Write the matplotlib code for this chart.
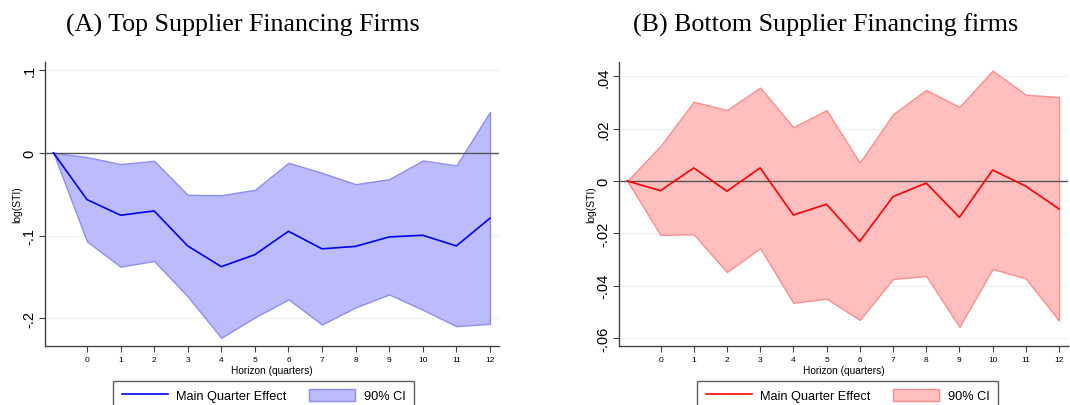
import matplotlib
matplotlib.use("Agg")
import matplotlib.pyplot as plt
import numpy as np
from matplotlib.patches import Patch
from matplotlib.lines import Line2D

plt.rcParams['font.family'] = ['Liberation Sans', 'DejaVu Sans']

# horizon (quarters), -1 is the anchor point
horizon = [-1, 0, 1, 2, 3, 4, 5, 6, 7, 8, 9, 10, 11, 12]

# (A) top supplier financing firms
top_main = [0, -0.0565, -0.0754, -0.0702, -0.1125, -0.1375, -0.123, -0.0948,
            -0.116, -0.113, -0.1016, -0.0996, -0.1125, -0.079]
top_upper = [0, -0.0052, -0.0137, -0.0097, -0.0508, -0.0512, -0.0448, -0.0121,
             -0.0242, -0.0379, -0.0319, -0.0093, -0.0153, 0.0492]
top_lower = [0, -0.1069, -0.1375, -0.1306, -0.1734, -0.2234, -0.1988, -0.177,
             -0.2073, -0.1867, -0.171, -0.1895, -0.2093, -0.2065]

# (B) bottom supplier financing firms
bot_main = [0, -0.0037, 0.005, -0.0039, 0.005, -0.013, -0.0089, -0.0231,
            -0.006, -0.0008, -0.0139, 0.0042, -0.002, -0.0107]
bot_upper = [0, 0.0134, 0.0303, 0.0271, 0.0357, 0.0206, 0.0271, 0.007,
             0.0255, 0.0348, 0.0283, 0.0422, 0.033, 0.0321]
bot_lower = [0, -0.0206, -0.0204, -0.0348, -0.0257, -0.0466, -0.045, -0.0531,
             -0.0375, -0.0363, -0.0558, -0.0336, -0.0373, -0.0534]

top_yticks = [0.1, 0, -0.1, -0.2]
top_ylabels = ['.1', '0', '-.1', '-.2']
bot_yticks = [0.04, 0.02, 0, -0.02, -0.04, -0.06]
bot_ylabels = ['.04', '.02', '0', '-.02', '-.04', '-.06']

W, H = 1070, 406
fig = plt.figure(figsize=(W / 100, H / 100), dpi=100)


def px(x0, y0, x1, y1):
    return [x0 / W, 1 - y1 / H, (x1 - x0) / W, (y1 - y0) / H]


panels = [
    dict(rect=px(45, 63, 499, 347), main=top_main, up=top_upper, lo=top_lower,
         line='#0000ff', fill='#bcbcfc', edge='#8c8cf8',
         ylim=(-0.2333, 0.1096), yt=top_yticks, yl=top_ylabels,
         title='(A) Top Supplier Financing Firms', tx=243, lx=263.5),
    dict(rect=px(619, 63, 1068, 347), main=bot_main, up=bot_upper, lo=bot_lower,
         line='#ff0000', fill='#ffbfbf', edge='#ff8c8c',
         ylim=(-0.0631, 0.0455), yt=bot_yticks, yl=bot_ylabels,
         title='(B) Bottom Supplier Financing firms', tx=826, lx=847.5),
]

for p in panels:
    ax = fig.add_axes(p['rect'])
    for y in p['yt']:
        ax.axhline(y, color='#eaf2f3', lw=0.8, zorder=0)
    ax.fill_between(horizon, p['lo'], p['up'], facecolor=p['fill'],
                    edgecolor=p['edge'], lw=1.0, zorder=1)
    ax.axhline(0, color='#555555', lw=1.0, zorder=2)
    ax.plot(horizon, p['main'], color=p['line'], lw=1.2, zorder=3)

    ax.set_xlim(-1.25, 12.27)
    ax.set_ylim(*p['ylim'])
    ax.set_xticks(range(0, 13))
    ax.set_xticklabels([str(i) for i in range(0, 13)], fontsize=6)
    ax.set_yticks(p['yt'])
    ax.set_yticklabels(p['yl'], fontsize=10.5, rotation=90, va='center')
    ax.tick_params(axis='both', direction='out', length=4, width=0.8,
                   color='#444444', pad=2)
    ax.tick_params(axis='x', pad=3)
    for s in ['top', 'right']:
        ax.spines[s].set_visible(False)
    for s in ['left', 'bottom']:
        ax.spines[s].set_color('#444444')
        ax.spines[s].set_linewidth(1.0)
    ax.set_xlabel('Horizon (quarters)', fontsize=7.3, labelpad=1.5)
    ax.set_ylabel('log(STI)', fontsize=7.5, labelpad=0)

    fig.text(p['tx'] / W, 1 - 25 / H, p['title'], family='Liberation Serif',
             fontsize=18.7, ha='center', va='center')

    handles = [Line2D([], [], color=p['line'], lw=1.2),
               Patch(facecolor=p['fill'], edgecolor=p['edge'], lw=1.0)]
    leg = ax.legend(handles, ['Main Quarter Effect', '90% CI'], ncol=2,
                    loc='upper center', bbox_to_anchor=(p['lx'] / W, 1 - 382 / H),
                    bbox_transform=fig.transFigure, fontsize=9.2, frameon=True,
                    fancybox=False, edgecolor='#333333', handlelength=3.6,
                    handleheight=1.0, columnspacing=1.8, borderpad=0.65,
                    handletextpad=0.65, borderaxespad=0)
    leg.get_frame().set_linewidth(1.0)

fig.savefig('out.png', dpi=100)
